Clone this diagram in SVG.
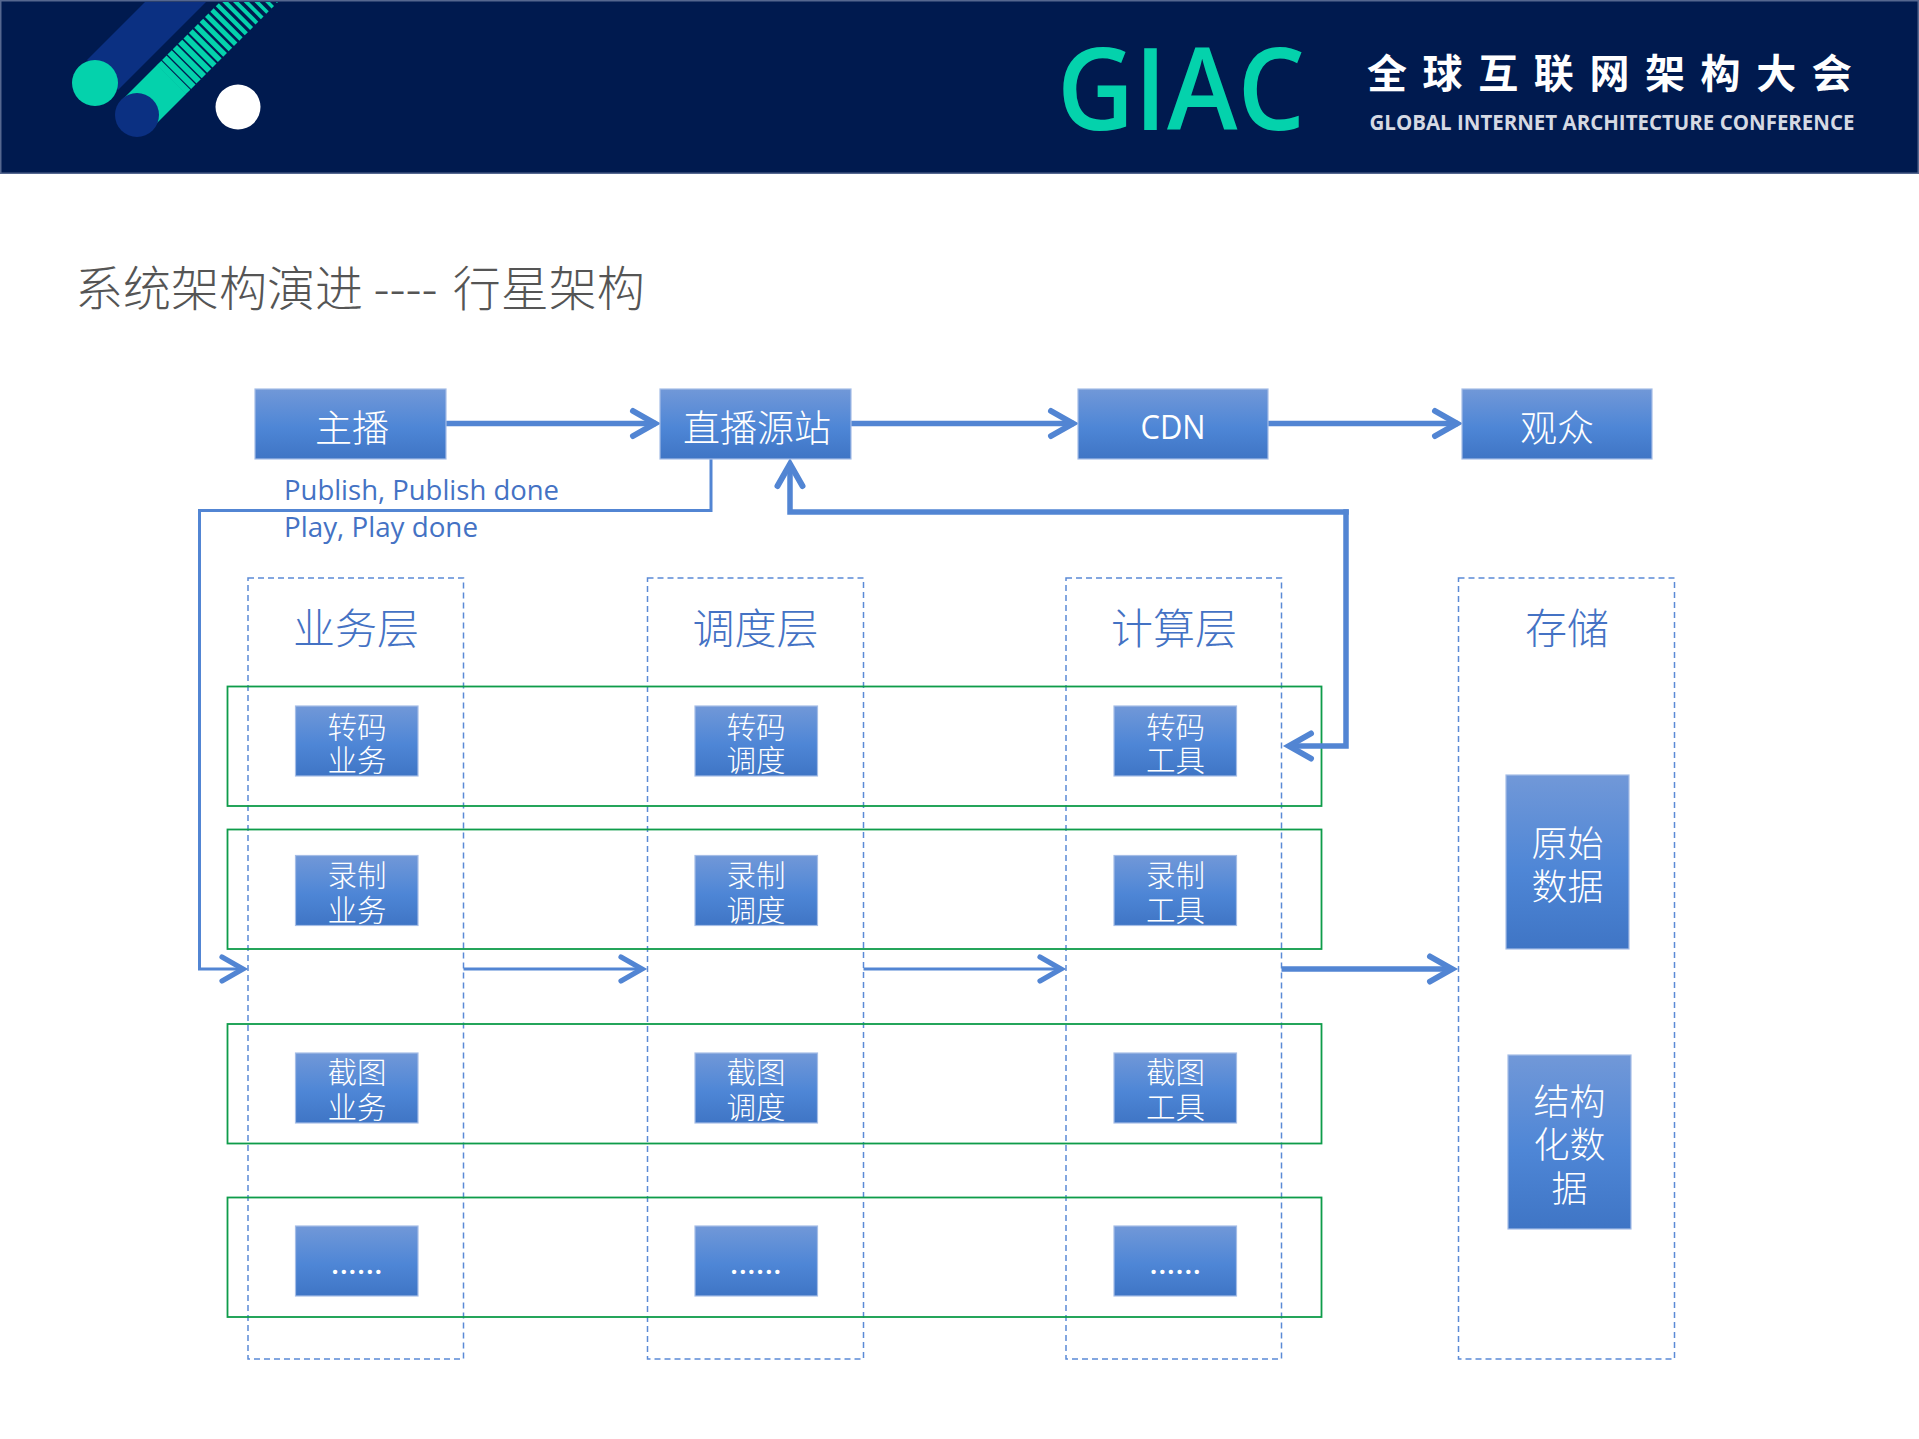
<svg xmlns="http://www.w3.org/2000/svg" width="1919" height="1439" viewBox="0 0 1919 1439">
<defs>
<style>
text{font-family:"Noto Sans CJK SC","Noto Sans",sans-serif;text-anchor:middle}
.latin{font-family:"Open Sans","Noto Sans CJK SC",sans-serif}
.box{fill:url(#g);stroke:#a5bde6;stroke-width:1.2}
.w{fill:#fff;font-weight:300}
.big{font-size:37px}
.sm{font-size:29.500px}
.md{font-size:36px}
.head{font-size:42px;fill:#4472c4;font-weight:300}
.dash{fill:none;stroke:#5b8ad6;stroke-width:1.5;stroke-dasharray:6 4}
.row{fill:none;stroke:#0e9c4a;stroke-width:1.8}
.thick{fill:none;stroke:#5285d3;stroke-width:5.500;marker-end:url(#at)}
.thin{fill:none;stroke:#5285d3;stroke-width:3;marker-end:url(#an)}
.lab{font-size:28px;fill:#4472c4;text-anchor:start}
.dots{font-weight:600;letter-spacing:0.6px}
</style>
<linearGradient id="g" x1="0" y1="0" x2="0" y2="1"><stop offset="0" stop-color="#7198d8"/><stop offset="0.55" stop-color="#4e86d6"/><stop offset="1" stop-color="#3f75c5"/></linearGradient>
<marker id="at" markerUnits="userSpaceOnUse" markerWidth="40" markerHeight="40" refX="30" refY="20" orient="auto" viewBox="0 0 40 40"><path d="M7 7.500L29 20L7 32.500" fill="none" stroke="#5285d3" stroke-width="6" stroke-linecap="round"/></marker>
<marker id="an" markerUnits="userSpaceOnUse" markerWidth="40" markerHeight="40" refX="30" refY="20" orient="auto" viewBox="0 0 40 40"><path d="M8 8L29 20L8 32" fill="none" stroke="#5285d3" stroke-width="5.200" stroke-linecap="round"/></marker>
<clipPath id="hc"><rect x="2" y="2" width="1915" height="170"/></clipPath>
</defs>
<rect width="1919" height="1439" fill="#fff"/>
<g id="header">
<rect x="0.750" y="0.750" width="1917.500" height="172.500" fill="#001a4f" stroke="#55678f" stroke-width="1.500"/>
<g clip-path="url(#hc)">
<path d="M87 60L147 0H208L118 90Z" fill="#0b3082"/>
<path d="M122 100L157 65L186 94L151 129Z" fill="#04d2ac"/>
<g fill="none" stroke="#04d2ac">
<path d="M159 63L188 92" stroke-width="6.600"/><path d="M164.300 57.700L193.300 86.700" stroke-width="6.400"/><path d="M169.600 52.400L198.600 81.400" stroke-width="6.200"/><path d="M174.900 47.100L203.900 76.100" stroke-width="6"/>
<path d="M180.200 41.800L209.200 70.800" stroke-width="5.800"/><path d="M185.500 36.500L214.500 65.500" stroke-width="5.600"/><path d="M190.800 31.200L219.800 60.200" stroke-width="5.400"/><path d="M196.100 25.900L225.100 54.900" stroke-width="5.200"/>
<path d="M201.400 20.600L230.400 49.600" stroke-width="5"/><path d="M206.700 15.300L235.700 44.300" stroke-width="4.800"/><path d="M212 10L241 39" stroke-width="4.600"/><path d="M217.300 4.700L246.300 33.700" stroke-width="4.400"/>
<path d="M222.600 -0.600L251.600 28.400" stroke-width="4.200"/><path d="M227.900 -5.900L256.900 23.100" stroke-width="4"/><path d="M233.200 -11.200L262.200 17.800" stroke-width="3.800"/><path d="M238.500 -16.500L267.500 12.500" stroke-width="3.600"/>
<path d="M243.800 -21.800L272.800 7.200" stroke-width="3.400"/><path d="M249.100 -27.100L278.100 1.900" stroke-width="3.200"/>
</g>
</g>
<circle cx="95" cy="83" r="23" fill="#04d2ac"/>
<circle cx="137" cy="115" r="22" fill="#0b3082"/>
<circle cx="238" cy="107" r="22.500" fill="#fff"/>
<text x="1181" y="130" class="latin" font-size="115" font-weight="600" fill="#04d2ac" textLength="248" lengthAdjust="spacingAndGlyphs">GIAC</text>
<text x="1367" y="88" font-size="40" font-weight="700" fill="#fff" style="text-anchor:start;letter-spacing:15.600px">全球互联网架构大会</text>
<text x="1612" y="130" class="latin" font-size="21" font-weight="700" fill="#d5d9e3" textLength="485" lengthAdjust="spacingAndGlyphs">GLOBAL INTERNET ARCHITECTURE CONFERENCE</text>
</g>
<text id="title" x="75" y="306" font-size="48" font-weight="300" fill="#555" style="text-anchor:start">系统架构演进 ---- <tspan dx="4.500">行星架构</tspan></text>

<g id="layer-biz"><rect class="dash" x="248" y="578" width="215.500" height="781"/><text class="head" x="356" y="644">业务层</text></g>
<g id="layer-sched"><rect class="dash" x="647.500" y="578" width="216" height="781"/><text class="head" x="755.500" y="644">调度层</text></g>
<g id="layer-compute"><rect class="dash" x="1066" y="578" width="215.500" height="781"/><text class="head" x="1174" y="644">计算层</text></g>
<g id="layer-storage"><rect class="dash" x="1458.500" y="578" width="216" height="781"/><text class="head" x="1567" y="644">存储</text></g>

<g id="row-transcode"><rect class="row" x="227.500" y="686.500" width="1094" height="119.500"/></g>
<g id="row-record"><rect class="row" x="227.500" y="829.500" width="1094" height="119.500"/></g>
<g id="row-snapshot"><rect class="row" x="227.500" y="1024" width="1094" height="119.500"/></g>
<g id="row-more"><rect class="row" x="227.500" y="1197.500" width="1094" height="119.500"/></g>

<g id="connectors">
<path class="thick" d="M446 423.500H656"/>
<path class="thick" d="M851 423.500H1074"/>
<path class="thick" d="M1268 423.500H1458"/>
<path class="thick" d="M1348.750 512H790V463"/>
<path class="thick" d="M1346 509.250V746H1288"/>
<path class="thin" d="M711 459V510.500H199.500V969H244"/>
<path class="thin" d="M463.500 969H643"/>
<path class="thin" d="M863.500 969H1062"/>
<path class="thick" d="M1281.500 969H1453"/>
</g>

<g id="anchor"><rect class="box" x="255" y="389" width="191" height="70"/><text class="w big" x="352" y="442">主播</text></g>
<g id="origin"><rect class="box" x="660" y="389" width="191" height="70"/><text class="w big" x="757" y="442">直播源站</text></g>
<g id="cdn"><rect class="box" x="1078" y="389" width="190" height="70"/><text class="w latin" style="font-weight:400" font-size="33" x="1173" y="439" textLength="65" lengthAdjust="spacingAndGlyphs">CDN</text></g>
<g id="audience"><rect class="box" x="1462" y="389" width="190" height="70"/><text class="w big" x="1557" y="442">观众</text></g>

<text id="label-publish" class="latin lab" x="284" y="500" textLength="275" lengthAdjust="spacingAndGlyphs">Publish, Publish done</text>
<text id="label-play" class="latin lab" x="284" y="537" textLength="194" lengthAdjust="spacingAndGlyphs">Play, Play done</text>

<g id="biz-transcode"><rect class="box" x="295.500" y="706" width="122.500" height="70"/><text class="w sm" x="357" y="738">转码</text><text class="w sm" x="357" y="771">业务</text></g>
<g id="sched-transcode"><rect class="box" x="695" y="706" width="122.500" height="70"/><text class="w sm" x="756" y="738">转码</text><text class="w sm" x="756" y="771">调度</text></g>
<g id="tool-transcode"><rect class="box" x="1114" y="706" width="122.500" height="70"/><text class="w sm" x="1175.500" y="738">转码</text><text class="w sm" x="1175.500" y="771">工具</text></g>

<g id="biz-record"><rect class="box" x="295.500" y="855.500" width="122.500" height="70"/><text class="w sm" x="357" y="886">录制</text><text class="w sm" x="357" y="921">业务</text></g>
<g id="sched-record"><rect class="box" x="695" y="855.500" width="122.500" height="70"/><text class="w sm" x="756" y="886">录制</text><text class="w sm" x="756" y="921">调度</text></g>
<g id="tool-record"><rect class="box" x="1114" y="855.500" width="122.500" height="70"/><text class="w sm" x="1175.500" y="886">录制</text><text class="w sm" x="1175.500" y="921">工具</text></g>

<g id="biz-snapshot"><rect class="box" x="295.500" y="1053" width="122.500" height="70"/><text class="w sm" x="357" y="1083">截图</text><text class="w sm" x="357" y="1118">业务</text></g>
<g id="sched-snapshot"><rect class="box" x="695" y="1053" width="122.500" height="70"/><text class="w sm" x="756" y="1083">截图</text><text class="w sm" x="756" y="1118">调度</text></g>
<g id="tool-snapshot"><rect class="box" x="1114" y="1053" width="122.500" height="70"/><text class="w sm" x="1175.500" y="1083">截图</text><text class="w sm" x="1175.500" y="1118">工具</text></g>

<g id="biz-more"><rect class="box" x="295.500" y="1226" width="122.500" height="70"/><text class="w latin sm dots" x="357" y="1274">......</text></g>
<g id="sched-more"><rect class="box" x="695" y="1226" width="122.500" height="70"/><text class="w latin sm dots" x="756" y="1274">......</text></g>
<g id="tool-more"><rect class="box" x="1114" y="1226" width="122.500" height="70"/><text class="w latin sm dots" x="1175.500" y="1274">......</text></g>

<g id="raw-data"><rect class="box" x="1506" y="775" width="123" height="174"/><text class="w md" x="1567.500" y="857">原始</text><text class="w md" x="1567.500" y="900">数据</text></g>
<g id="structured-data"><rect class="box" x="1508" y="1055" width="123" height="174"/><text class="w md" x="1569.500" y="1115">结构</text><text class="w md" x="1569.500" y="1158">化数</text><text class="w md" x="1569.500" y="1202">据</text></g>
</svg>
